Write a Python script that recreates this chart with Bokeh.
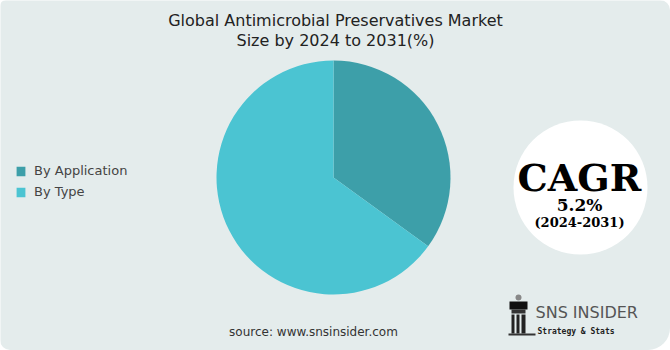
import numpy as np
from bokeh.plotting import figure
from bokeh.models import ColumnDataSource, Legend, LegendItem, Label
from bokeh.core.properties import value
from bokeh.embed import file_html
from bokeh.resources import INLINE

title_lines = ["Global Antimicrobial Preservatives Market", "Size by 2024 to 2031(%)"]
categories = ["By Application", "By Type"]
shares = [35, 65]
colors = ["#3d9fa9", "#4bc4d2"]
cagr_text = ["CAGR", "5.2%", "(2024-2031)"]
source_text = "source: www.snsinsider.com"

W, H = 670, 350
p = figure(width=W, height=H, x_range=(0, W), y_range=(0, H), output_backend="svg",
           toolbar_location=None, min_border=0)
p.axis.visible = False
p.grid.visible = False
p.outline_line_color = None
p.background_fill_color = "#e4ecec"
p.border_fill_color = "#e4ecec"
p.styles = {"border-radius": "6px 10px 22px 10px", "overflow": "hidden"}

# pie
vals = np.array(shares, dtype=float)
frac = vals / vals.sum()
cum = np.concatenate([[0], np.cumsum(frac)])
start = np.pi / 2 - cum[:-1] * 2 * np.pi
end = np.pi / 2 - cum[1:] * 2 * np.pi
src = ColumnDataSource(dict(cat=categories, val=shares, start=start, end=end, color=colors))
r = p.wedge(x=333, y=H - 177, radius=117, start_angle="start", end_angle="end",
            direction="clock", fill_color="color", line_color=None, source=src)

legend = Legend(items=[LegendItem(label=c, renderers=[r], index=i) for i, c in enumerate(categories)],
                location=(15, 151), orientation="vertical", padding=0, margin=0, spacing=6,
                glyph_width=11, glyph_height=12, label_height=12, label_standoff=8,
                label_text_font="DejaVu Sans", label_text_font_size="13px",
                label_text_color="#444444", border_line_color=None, background_fill_alpha=0)
p.add_layout(legend)

# title
for i, t in enumerate(title_lines):
    p.add_layout(Label(x=335, y=H - 20 - i * 20, text=t, text_align="center", text_baseline="middle",
                       text_font="DejaVu Sans", text_font_size="16px", text_color="#222222"))

# CAGR circle
p.circle(x=[580], y=[H - 187], radius=67, fill_color="white", line_color=None)
sizes = ["38px", "17px", "13px"]
ys = [177, 204, 222]
for t, s, yy in zip(cagr_text, sizes, ys):
    p.add_layout(Label(x=579, y=H - yy, text=t, text_align="center", text_baseline="middle",
                       text_font="DejaVu Serif", text_font_style="bold", text_font_size=s,
                       text_color="#000000"))

# source
p.add_layout(Label(x=313, y=H - 331, text=source_text, text_align="center", text_baseline="middle",
                   text_font="DejaVu Sans", text_font_size="12px", text_color="#333333"))

# logo
p.add_layout(Label(x=535, y=H - 312, text="SNS INSIDER", text_align="left", text_baseline="middle",
                   text_font="DejaVu Sans", text_font_size="16px", text_color="#555555"))
p.add_layout(Label(x=537, y=H - 331, text="Strategy & Stats", text_align="left", text_baseline="middle",
                   text_font="DejaVu Sans Mono", text_font_style="bold", text_font_size="8px",
                   text_color="#222222"))
# rook icon
p.circle(x=[518], y=[H - 297], radius=3, fill_color="#888888", line_color=None)
p.quad(left=[509], right=[527], bottom=[H - 309], top=[H - 301], fill_color="#111111", line_color=None)
p.quad(left=[511], right=[525], bottom=[H - 313], top=[H - 309], fill_color="#333333", line_color=None)
p.quad(left=[511, 516, 521], right=[514, 519, 525], bottom=[H - 333] * 3, top=[H - 314] * 3,
       fill_color="#222222", line_color=None)
p.quad(left=[508], right=[535], bottom=[H - 335], top=[H - 333], fill_color="#333333", line_color=None)

open("out.html", "w").write(file_html(p, INLINE))
